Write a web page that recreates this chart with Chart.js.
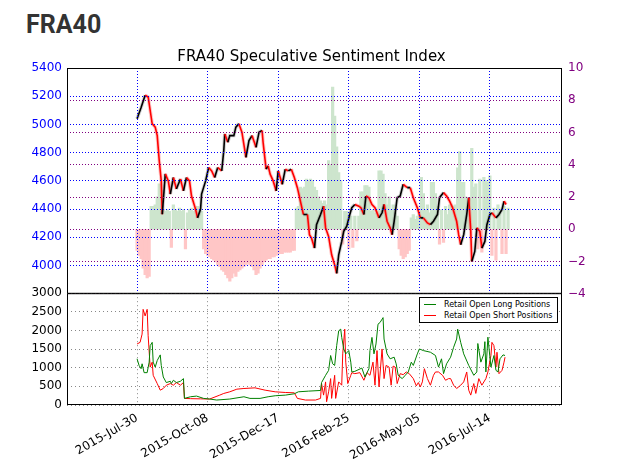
<!DOCTYPE html>
<html>
<head>
<meta charset="utf-8">
<script src="https://cdn.jsdelivr.net/npm/chart.js@4.4.0/dist/chart.umd.min.js"></script>
<style>
body { margin: 0; background: #fff; width: 623px; height: 470px; overflow: hidden; position: relative; }
#head { position: absolute; left: 26px; top: 10px; font: bold 25px Roboto, sans-serif; color: #333; }
canvas { position: absolute; left: 0; }
#cTop { top: 0; }
#cBot { top: 281px; }
#legend { position: absolute; left: 419px; top: 297px; width: 137px; height: 23px; border: 1px solid #000; background: #fff;
  font: 8px "DejaVu Sans", sans-serif; color: #000; padding-top: 1px; }
#legend div { height: 11px; line-height: 11px; white-space: nowrap; }
#legend span { display: inline-block; width: 12px; height: 0; border-top: 1px solid; vertical-align: middle; margin: 0 8px 0 4px; }
</style>
</head>
<body>
<div id="head">FRA40</div>
<canvas id="cTop" width="623" height="307"></canvas>
<canvas id="cBot" width="623" height="189"></canvas>
<div id="legend">
  <div><span style="border-color:#008000"></span>Retail Open Long Positions</div>
  <div><span style="border-color:#ff0000"></span>Retail Open Short Positions</div>
</div>
<script>
/* dates are days counted from 2015-07-30 */
const tickDay = [0, 70, 140, 210, 280, 350];
const tickLabel = ['2015-Jul-30', '2015-Oct-08', '2015-Dec-17', '2016-Feb-25', '2016-May-05', '2016-Jul-14'];

const priceDay = [0,4,8,11,15,18,20,22,24,25,28,31,33,36,39,43,46,49,52,54,58,60,63,64,68,71,74,77,80,84,
  86,87,90,92,96,98,101,104,108,111,114,118,121,124,125,128,130,132,135,138,140,144,147,150,153,156,159,162,165,169,
  171,173,176,178,182,185,187,190,193,196,198,200,203,205,208,211,213,216,220,222,225,227,230,233,236,240,243,245,248,251,
  253,255,258,261,264,268,271,274,278,281,284,288,291,294,298,300,304,307,310,313,317,319,321,324,327,329,331,332,335,337,
  340,342,345,347,350,352,356,359,362,364,366];
const priceClose = [5041,5120,5207,5195,5005,4981,4921,4743,4600,4364,4650,4600,4507,4624,4543,4614,4529,4624,4600,4493,
  4400,4338,4400,4507,4600,4695,4671,4624,4695,4671,4814,4933,4874,4921,4921,4981,5005,4945,4767,4886,
  4921,4838,4945,4957,4874,4683,4707,4648,4600,4529,4671,4576,4683,4671,4683,4624,4552,4457,4362,4362,
  4219,4195,4124,4290,4362,4421,4267,4207,4076,4005,3945,4076,4171,4243,4279,4362,4410,4433,4421,4410,
  4362,4493,4481,4433,4410,4338,4374,4433,4314,4267,4219,4314,4481,4493,4576,4552,4552,4481,4410,4338,
  4338,4302,4290,4314,4362,4481,4517,4493,4457,4410,4314,4219,4148,4219,4362,4481,4243,4029,4100,4267,
  4243,4124,4171,4290,4362,4374,4338,4362,4398,4457,4433];

const sentDay = [0,2,4,6,8,10,12,14,16,18,20,22,24,26,28,30,32,34,36,38,40,42,44,46,48,50,52,54,56,58,60,62,64,
  66,68,70,72,74,76,78,80,82,84,86,88,90,92,94,96,98,100,102,104,106,108,110,112,114,116,118,120,122,124,126,128,
  130,132,134,136,138,140,142,144,146,148,150,152,154,156,158,160,162,164,166,168,170,172,174,176,178,180,182,184,
  186,188,190,192,194,196,198,200,202,204,206,208,210,212,214,216,218,220,222,224,226,228,230,232,234,236,238,240,
  242,244,246,248,250,252,254,256,258,260,262,264,266,268,270,272,274,276,278,280,282,284,286,288,290,292,294,296,
  298,300,302,304,306,308,310,312,314,316,318,320,322,324,326,328,330,332,334,336,338,340,342,344,346,348,350,352,
  354,356,358,360,362,364,366,368];
const sentValue = [-1.3,-1.6,-1.8,-2.4,-2.8,-3.0,-2.9,
  1.4,1.4,1.5,2.0,2.8,2.4,1.2,
  1.1,1.2,1.1,-1.1,1.5,1.2,1.1,1.3,1.1,1.2,-1.2,1.0,
  1.2,1.3,1.1,1.3,1.4,1.2,1.1,
  -1.2,-1.5,-1.6,-1.7,-1.8,-1.9,-2.0,-2.2,-2.3,-2.5,
  -2.6,-2.8,-3.0,-3.2,-3.0,-2.7,-2.9,-2.6,-2.5,-2.4,-2.3,
  -2.2,-2.1,-2.2,-2.3,-2.5,-2.8,-2.7,-2.4,-2.2,-2.0,
  -1.9,-1.8,-1.8,-1.7,-1.7,-1.6,-1.5,-1.5,-1.5,-1.4,
  -1.4,-1.4,-1.4,-1.3,-1.3,
  1.3,1.4,2.6,2.5,2.6,3.1,3.0,3.1,3.0,2.6,2.4,2.0,1.75,1.6,1.75,1.5,4.25,4.0,8.8,7.0,5.1,3.5,3.0,
  -0.9,1.1,1.1,-1.2,0.8,-1.1,0.8,-0.7,0.8,2.3,2.3,2.7,2.7,2.6,1.1,1.2,1.0,1.1,3.6,3.6,3.4,2.2,1.5,2.0,1.2,1.5,1.0,0.8,
  -1.2,-1.6,-1.8,-1.7,-1.5,-1.3,
  0.7,0.9,0.6,0.8,0.9,3.2,2.2,1.2,1.5,1.0,2.9,2.9,2.2,1.4,
  -0.9,1.2,-0.8,1.4,0.9,1.5,1.5,1.4,1.5,3.8,4.8,2.9,2.9,2.0,1.6,1.8,5.0,2.6,2.8,
  -1.2,3.1,-1.4,3.2,3.0,2.9,3.3,-1.6,1.3,-1.9,1.5,1.2,-1.5,1.4,-1.5,1.3];

const longDay = [0,2,4,5,7,10,12,13,15,16,18,20,23,24,26,29,33,34,36,39,43,46,47,53,59,66,72,79,92,106,
  112,122,130,137,147,156,160,170,182,183,187,190,192,194,196,198,200,202,203,205,207,210,212,213,216,223,226,230,231,233,
  235,237,239,241,244,245,248,251,255,257,259,263,266,269,272,274,278,280,284,291,296,299,302,304,307,311,314,317,318,321,
  324,329,334,337,338,341,344,345,346,348,351,354,356,358,360,363,365];
const longValue = [1239,1062,974,1106,868,868,1150,1593,1681,1150,1017,1194,1345,1062,752,602,637,575,664,602,
  637,708,177,221,239,177,160,133,160,221,177,177,221,248,265,301,354,372,390,602,
  797,929,1328,1106,1062,1593,1991,2036,1814,1504,1372,1460,1150,886,903,991,752,974,1460,1814,
  1372,1637,2169,2213,2345,1770,1372,1239,1283,1106,797,708,797,886,1150,1062,1372,1504,1460,1416,
  1328,1017,1239,841,1106,1283,1549,1770,2036,1681,1372,1062,797,886,1650,1150,1372,1700,886,1820,
  1017,1328,929,886,1239,1345,1328];

const shortDay = [0,3,5,6,8,10,11,13,15,16,20,23,26,29,33,36,39,43,46,47,53,63,72,82,86,92,99,106,117,127,
  137,147,156,159,167,177,182,183,185,187,188,190,192,193,196,197,200,203,204,206,207,209,212,213,216,221,225,228,231,234,
  236,238,240,243,245,247,250,252,254,256,258,261,264,267,270,274,277,279,281,283,285,288,291,294,296,299,303,306,309,311,
  314,317,321,324,327,329,331,334,336,339,342,346,348,351,352,354,356,357,359,362,364,365];
const shortValue = [1637,1681,1903,2567,2390,2567,1858,1017,1150,797,575,398,443,531,575,531,602,531,602,177,
  170,165,160,265,310,354,425,443,460,398,354,336,327,177,133,133,177,575,265,620,
  88,354,708,177,797,177,620,531,1372,2036,1150,575,797,868,841,868,664,868,797,1150,
  531,1460,487,1504,708,1062,1017,531,1044,1017,575,841,814,886,841,708,513,602,487,620,
  974,708,531,797,886,886,797,664,708,708,531,443,531,620,886,398,265,575,310,708,
  531,708,886,1328,1681,1593,1017,1416,841,929,1150,1283];

const xMin = -69.5, xMax = 421.5;
const font12 = { family: 'DejaVu Sans', size: 12 };
const toXY = (xs, ys) => xs.map((x, i) => ({ x: x, y: ys[i] }));
const dateTicks = ax => { ax.ticks = tickDay.map(v => ({ value: v })); };
const minus = v => v < 0 ? '\u2212' + Math.abs(v) : String(v);

// black box round the plot area
const frame = {
  id: 'frame',
  afterDraw(c) {
    const a = c.chartArea, ctx = c.ctx;
    ctx.save();
    ctx.strokeStyle = '#000'; ctx.lineWidth = 1;
    ctx.strokeRect(a.left + 0.5, a.top + 0.5, a.right - a.left - 1, a.bottom - a.top - 1);
    ctx.restore();
  }
};

/* panel 1: price + sentiment */
new Chart(document.getElementById('cTop'), {
  type: 'bar',
  data: {
    datasets: [
      {
        type: 'line', data: toXY(priceDay, priceClose), yAxisID: 'y', borderWidth: 1.6, pointRadius: 0, order: 1,
        segment: { borderColor: c => c.p1.parsed.y >= c.p0.parsed.y ? '#000' : '#ff0000' }
      },
      {
        type: 'line', data: toXY(priceDay, priceClose), yAxisID: 'y', borderWidth: 3.5, pointRadius: 0, order: 2,
        segment: { borderColor: c => c.p1.parsed.y >= c.p0.parsed.y ? 'rgba(120,120,120,0.35)' : 'rgba(255,90,90,0.35)' }
      },
      {
        type: 'bar', data: toXY(sentDay, sentValue), yAxisID: 'y2', order: 3,
        barPercentage: 1, categoryPercentage: 1, inflateAmount: 0.6,
        backgroundColor: c => c.raw && c.raw.y < 0 ? '#ffc6c6' : '#cde5cd'
      }
    ]
  },
  options: {
    responsive: false, animation: false,
    layout: { padding: { top: 46, bottom: 1, left: 0, right: 0 } },
    plugins: {
      legend: { display: false }, tooltip: { enabled: false },
      title: { display: true, text: 'FRA40 Speculative Sentiment Index', color: '#000',
        font: { family: 'DejaVu Sans', size: 15, weight: 'normal' }, padding: { top: 2, bottom: 2 } }
    },
    scales: {
      x: {
        type: 'linear', min: xMin, max: xMax, offset: false, afterBuildTicks: dateTicks,
        ticks: { display: false }, grid: { color: '#0000ff', drawTicks: false, offset: false, z: 1 },
        border: { display: false, dash: [1, 2] },
        afterFit: ax => { ax.height = 0; }
      },
      y: {
        position: 'left', min: 3800, max: 5400,
        ticks: { stepSize: 200, color: '#0000ff', font: font12, padding: 5, callback: v => v === 3800 ? '' : v },
        grid: { color: '#0000ff', drawTicks: false, z: 1 }, border: { display: false, dash: [1, 2] },
        afterFit: ax => { ax.width = 67; }
      },
      y2: {
        position: 'right', min: -4, max: 10,
        ticks: { stepSize: 2, color: '#800080', font: font12, padding: 6, callback: v => minus(v) },
        grid: { color: '#800080', drawTicks: false, z: 1 }, border: { display: false, dash: [1, 2] },
        afterFit: ax => { ax.width = 61; }
      }
    }
  },
  plugins: [frame]
});

/* panel 2: retail open positions */
new Chart(document.getElementById('cBot'), {
  type: 'line',
  data: {
    datasets: [
      { label: 'Retail Open Long Positions', data: toXY(longDay, longValue), borderColor: '#008000', borderWidth: 1, pointRadius: 0 },
      { label: 'Retail Open Short Positions', data: toXY(shortDay, shortValue), borderColor: '#ff0000', borderWidth: 1, pointRadius: 0 }
    ]
  },
  options: {
    responsive: false, animation: false,
    layout: { padding: { top: 12, bottom: 0, left: 0, right: 61 } },
    plugins: { legend: { display: false }, tooltip: { enabled: false } },
    scales: {
      x: {
        type: 'linear', min: xMin, max: xMax, afterBuildTicks: dateTicks,
        ticks: { color: '#000', font: font12, autoSkip: false, minRotation: 30, maxRotation: 30, padding: 6,
          callback: v => tickLabel[tickDay.indexOf(v)] },
        grid: { color: '#888', drawTicks: false }, border: { display: false, dash: [1, 3] },
        afterFit: ax => { ax.height = 65; }
      },
      y: {
        min: 0, max: 3000,
        ticks: { stepSize: 500, color: '#000', font: font12, padding: 5, callback: v => String(v) },
        grid: { color: '#888', drawTicks: false }, border: { display: false, dash: [1, 3] },
        afterFit: ax => { ax.width = 67; }
      }
    }
  },
  plugins: [frame]
});
</script>
</body>
</html>
